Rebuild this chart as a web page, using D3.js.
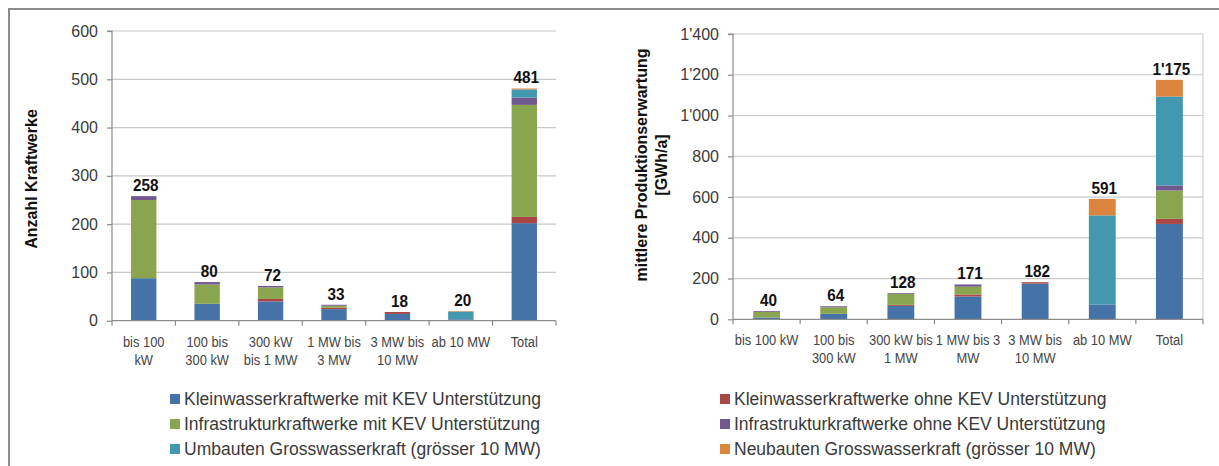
<!DOCTYPE html>
<html>
<head>
<meta charset="utf-8">
<script src="https://cdn.jsdelivr.net/npm/d3@7"></script>
<style>
  body { margin: 0; background: #fff; }
  svg { display: block; }
  text { font-family: "Liberation Sans", Arial, sans-serif; }
</style>
</head>
<body>
<svg id="chart" width="1219" height="466"></svg>
<script>
// categories (same for both panels, line breaks differ)
const catsLeft  = [["bis 100", "kW"], ["100 bis", "300 kW"], ["300 kW", "bis 1 MW"], ["1 MW bis", "3 MW"], ["3 MW bis", "10 MW"], ["ab 10 MW"], ["Total"]];
const catsRight = [["bis 100 kW"], ["100 bis", "300 kW"], ["300 kW bis", "1 MW"], ["1 MW bis 3", "MW"], ["3 MW bis", "10 MW"], ["ab 10 MW"], ["Total"]];

const seriesNames = [
  "Kleinwasserkraftwerke mit KEV Unterstützung",
  "Kleinwasserkraftwerke ohne KEV Unterstützung",
  "Infrastrukturkraftwerke mit KEV Unterstützung",
  "Infrastrukturkraftwerke ohne KEV Unterstützung",
  "Umbauten Grosswasserkraft (grösser 10 MW)",
  "Neubauten Grosswasserkraft (grösser 10 MW)"
];
const seriesColors = ["#4572A7", "#AA4643", "#89A54E", "#71588F", "#4198AF", "#DB843D"];

// Anzahl Kraftwerke
const kleinMitCount  = [88, 35, 40, 24, 14, 3, 202];
const kleinOhneCount = [0, 0, 5, 3, 4, 0, 13];
const infraMitCount  = [162, 40, 24, 4, 0, 0, 232];
const infraOhneCount = [8, 5, 3, 2, 0, 0, 15];
const umbauCount     = [0, 0, 0, 0, 0, 16, 17];
const neubauCount    = [0, 0, 0, 0, 0, 1, 2];

// mittlere Produktionserwartung [GWh/a]
const kleinMitProd  = [9, 27, 66, 112, 175, 72, 468];
const kleinOhneProd = [0, 0, 5, 10, 7, 0, 25];
const infraMitProd  = [27, 32, 53, 38, 0, 0, 139];
const infraOhneProd = [4, 5, 4, 11, 0, 0, 25];
const umbauProd     = [0, 0, 0, 0, 0, 438, 436];
const neubauProd    = [0, 0, 0, 0, 0, 81, 82];

const ticksLeft  = [0, 100, 200, 300, 400, 500, 600];
const ticksRight = [0, 200, 400, 600, 800, 1000, 1200, 1400];

const fmt = d3.formatLocale({ decimal: ".", thousands: "'", grouping: [3], currency: ["", ""] }).format(",d");

const svg = d3.select("#chart");

// outer frame
svg.append("path")
  .attr("d", "M9,466 V9 H1219")
  .attr("fill", "none")
  .attr("stroke", "#8c8c8c")
  .attr("stroke-width", 2);

function panel(opt) {
  const keys = d3.range(seriesNames.length);
  const rows = opt.cats.map((c, i) => {
    const r = { cat: i };
    opt.values.forEach((arr, k) => r[k] = arr[i]);
    return r;
  });
  const stacked = d3.stack().keys(keys)(rows);

  const x = d3.scaleBand().domain(d3.range(opt.cats.length)).range([opt.x0, opt.x1]);
  const y = d3.scaleLinear().domain([0, opt.max]).range([opt.y0, opt.y1]);
  const barW = x.bandwidth() * 0.4;

  const g = svg.append("g");

  // gridlines
  g.selectAll(".grid").data(opt.ticks.filter(t => t > 0)).join("line")
    .attr("x1", opt.x0).attr("x2", opt.x1)
    .attr("y1", d => y(d)).attr("y2", d => y(d))
    .attr("stroke", "#c8c8c8").attr("stroke-width", 1.2);

  if (opt.border) {
    g.append("line")
      .attr("x1", opt.x1).attr("x2", opt.x1)
      .attr("y1", y(opt.max)).attr("y2", y(0))
      .attr("stroke", "#d0d0d0").attr("stroke-width", 1.2);
  }

  // bars
  g.selectAll(".series").data(stacked).join("g")
    .attr("fill", (d, i) => seriesColors[i])
    .selectAll("rect").data(d => d).join("rect")
    .attr("x", (d, i) => x(i) + (x.bandwidth() - barW) / 2)
    .attr("width", barW)
    .attr("y", d => y(d[1]))
    .attr("height", d => y(d[0]) - y(d[1]));

  // y axis
  const yAxis = d3.axisLeft(y).tickValues(opt.ticks).tickSize(5).tickPadding(9).tickFormat(fmt);
  const ya = g.append("g").attr("transform", `translate(${opt.x0},0)`).call(yAxis);
  ya.select(".domain").attr("d", `M${-5},${y(opt.max)}H0V${y(0)}`).attr("stroke", "#8c8c8c").attr("stroke-width", 1.2);
  ya.selectAll(".tick line").attr("stroke", "#8c8c8c").attr("stroke-width", 1.2);
  ya.selectAll(".tick text").attr("fill", "#3a3a3a").style("font-size", "16px");

  // x axis line and ticks at band boundaries
  g.append("line")
    .attr("x1", opt.x0).attr("x2", opt.x1)
    .attr("y1", y(0)).attr("y2", y(0))
    .attr("stroke", "#8c8c8c").attr("stroke-width", 1.2);
  g.selectAll(".xtick").data(d3.range(opt.cats.length + 1)).join("line")
    .attr("x1", i => opt.x0 + i * x.step()).attr("x2", i => opt.x0 + i * x.step())
    .attr("y1", y(0)).attr("y2", y(0) + 5)
    .attr("stroke", "#8c8c8c").attr("stroke-width", 1.2);

  // category labels (horizontally condensed like the original narrow font)
  const cl = g.selectAll(".cat").data(opt.cats).join("text")
    .attr("transform", (d, i) => `translate(${x(i) + x.bandwidth() / 2},${y(0)}) scale(0.86,1)`)
    .attr("text-anchor", "middle")
    .attr("fill", "#454545")
    .style("font-size", "15px");
  cl.selectAll("tspan").data(d => d).join("tspan")
    .attr("x", 0)
    .attr("y", (d, j) => 26 + j * 18)
    .text(d => d);

  // total labels
  g.selectAll(".total").data(rows).join("text")
    .attr("transform", (d, i) => `translate(${x(i) + x.bandwidth() / 2 + 2},${y(d3.sum(keys, k => d[k])) - 5}) scale(0.9,1)`)
    .attr("text-anchor", "middle")
    .attr("fill", "#111")
    .style("font-size", "17px")
    .style("font-weight", "bold")
    .text(d => fmt(d3.sum(keys, k => d[k])));

  // y title
  const t = g.append("text")
    .attr("transform", `translate(${opt.titleX},${opt.titleY}) rotate(-90)`)
    .attr("text-anchor", "middle")
    .attr("fill", "#111")
    .style("font-size", "16px")
    .style("font-weight", "bold");
  t.selectAll("tspan").data(opt.title).join("tspan")
    .attr("x", 0)
    .attr("y", (d, j) => j * 20 + 6)
    .text(d => d);
}

panel({
  cats: catsLeft,
  values: [kleinMitCount, kleinOhneCount, infraMitCount, infraOhneCount, umbauCount, neubauCount],
  ticks: ticksLeft, max: 600,
  x0: 112, x1: 556, y0: 320.7, y1: 31,
  title: ["Anzahl Kraftwerke"], titleX: 31, titleY: 179,
  border: false
});

panel({
  cats: catsRight,
  values: [kleinMitProd, kleinOhneProd, infraMitProd, infraOhneProd, umbauProd, neubauProd],
  ticks: ticksRight, max: 1400,
  x0: 733, x1: 1203, y0: 319.3, y1: 34,
  title: ["mittlere Produktionserwartung", "[GWh/a]"], titleX: 641, titleY: 165,
  border: true
});

// legend: two columns, three rows
const legend = svg.append("g");
const leg = legend.selectAll("g").data(seriesNames).join("g")
  .attr("transform", (d, i) => `translate(${i % 2 === 0 ? 170 : 720},${399 + Math.floor(i / 2) * 25})`);
leg.append("rect")
  .attr("x", 0).attr("y", -5).attr("width", 10).attr("height", 10)
  .attr("fill", (d, i) => seriesColors[i]);
leg.append("text")
  .attr("x", 14).attr("y", 6)
  .attr("fill", "#3a3a3a")
  .style("font-size", "17.5px")
  .text(d => d);
</script>
</body>
</html>
